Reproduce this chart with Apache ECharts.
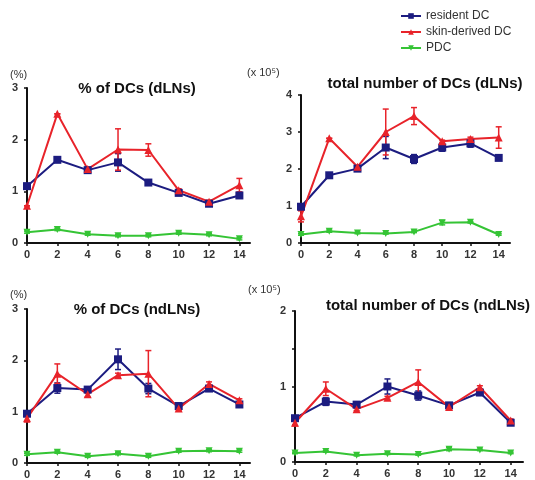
<!DOCTYPE html>
<html>
<head>
<meta charset="utf-8">
<script src="https://cdn.jsdelivr.net/npm/echarts@6/dist/echarts.min.js"></script>
<style>
  html, body { margin: 0; padding: 0; background: #fff; }
  #chart { width: 535px; height: 480px; }
</style>
</head>
<body>
<div id="chart"></div>
<script>
// days after sensitization
const days = [0, 2, 4, 6, 8, 10, 12, 14];
const seriesNames = ['resident DC', 'skin-derived DC', 'PDC'];

// 1: % of DCs (dLNs)
const res1 = [1.10, 1.61, 1.41, 1.56, 1.17, 0.97, 0.76, 0.92];
const resErr1 = [0.05, 0.03, 0.03, 0.17, 0.05, 0.04, 0.03, 0.03];
const skin1 = [0.72, 2.50, 1.43, 1.81, 1.80, 1.02, 0.80, 1.12];
const skinErr1 = [0, 0, 0.03, 0.40, 0.12, 0.03, 0.03, 0.13];
const pdc1 = [0.21, 0.26, 0.17, 0.14, 0.14, 0.19, 0.16, 0.08];
const pdcErr1 = [0.02, 0.02, 0.02, 0.02, 0.02, 0.02, 0.02, 0.02];

// 2: total number of DCs (dLNs), x 10^5
const res2 = [0.98, 1.83, 2.01, 2.58, 2.27, 2.58, 2.69, 2.30];
const resErr2 = [0.05, 0.03, 0.03, 0.30, 0.12, 0.10, 0.10, 0.05];
const skin2 = [0.72, 2.83, 2.06, 3.00, 3.43, 2.75, 2.81, 2.85];
const skinErr2 = [0.15, 0, 0.03, 0.62, 0.23, 0.03, 0.05, 0.29];
const pdc2 = [0.23, 0.32, 0.27, 0.26, 0.30, 0.55, 0.56, 0.23];
const pdcErr2 = [0.02, 0.03, 0.02, 0.02, 0.02, 0.06, 0.02, 0.02];

// 3: % of DCs (ndLNs)
const res3 = [0.96, 1.46, 1.43, 2.02, 1.45, 1.11, 1.45, 1.14];
const resErr3 = [0.05, 0.10, 0.04, 0.20, 0.10, 0.03, 0.04, 0.03];
const skin3 = [0.87, 1.74, 1.34, 1.71, 1.74, 1.06, 1.54, 1.22];
const skinErr3 = [0.07, 0.19, 0.05, 0.04, 0.45, 0.04, 0.04, 0.03];
const pdc3 = [0.17, 0.21, 0.13, 0.18, 0.13, 0.23, 0.24, 0.23];
const pdcErr3 = [0.02, 0.02, 0.02, 0.02, 0.02, 0.02, 0.02, 0.02];

// 4: total number of DCs (ndLNs), x 10^5
const res4 = [0.58, 0.80, 0.76, 1.00, 0.88, 0.75, 0.92, 0.52];
const resErr4 = [0.03, 0.05, 0.02, 0.10, 0.06, 0.02, 0.02, 0.02];
const skin4 = [0.52, 0.97, 0.70, 0.85, 1.06, 0.73, 0.99, 0.55];
const skinErr4 = [0.04, 0.09, 0.02, 0.02, 0.16, 0.03, 0.02, 0.02];
const pdc4 = [0.12, 0.14, 0.09, 0.11, 0.10, 0.17, 0.16, 0.12];
const pdcErr4 = [0.01, 0.01, 0.01, 0.01, 0.01, 0.02, 0.01, 0.01];

const titles = ['% of DCs (dLNs)', 'total number of DCs (dLNs)', '% of DCs (ndLNs)', 'total number of DCs (ndLNs)'];
const unitLabels = ['(%)', '(x 10⁵)', '(%)', '(x 10⁵)'];
const yMax = [3, 4, 3, 2];
const yStep = [1, 1, 1, 0.5];

const panels = [
  [res1, resErr1, skin1, skinErr1, pdc1, pdcErr1],
  [res2, resErr2, skin2, skinErr2, pdc2, pdcErr2],
  [res3, resErr3, skin3, skinErr3, pdc3, pdcErr3],
  [res4, resErr4, skin4, skinErr4, pdc4, pdcErr4]
];

const colors = ['#1c1c80', '#e8232a', '#35c435'];
const symbols = ['rect', 'triangle', 'triangle'];
const symbolRot = [0, 0, 180];
const symbolSz = [8, 8, 7];

// grid boxes (px)
const grids = [
  { left: 27, top: 88, width: 223, height: 155 },
  { left: 301, top: 95, width: 209, height: 148 },
  { left: 27, top: 309, width: 223, height: 154 },
  { left: 295, top: 311, width: 228, height: 151 }
];
const xMax = [14.7, 14.8, 14.7, 14.8];
const titlePos = [[137, 81], [425, 76], [137, 302], [428, 298]];
const unitPos = [[10, 69], [247, 67], [10, 289], [248, 284]];

const chart = echarts.init(document.getElementById('chart'));

const axisText = { color: '#333', fontWeight: 'bold', fontSize: 11, fontFamily: 'Liberation Sans, Arial' };

function errorBar(color) {
  return function (params, api) {
    const x = api.value(0);
    const lo = api.coord([x, api.value(1)]);
    const hi = api.coord([x, api.value(2)]);
    const cap = 3;
    const style = { stroke: color, lineWidth: 1.5 };
    return {
      type: 'group',
      children: [
        { type: 'line', shape: { x1: lo[0], y1: lo[1], x2: hi[0], y2: hi[1] }, style },
        { type: 'line', shape: { x1: hi[0] - cap, y1: hi[1], x2: hi[0] + cap, y2: hi[1] }, style },
        { type: 'line', shape: { x1: lo[0] - cap, y1: lo[1], x2: lo[0] + cap, y2: lo[1] }, style }
      ]
    };
  };
}

const xAxes = [], yAxes = [], series = [], titleOpts = [];
grids.forEach((g, i) => {
  xAxes.push({
    type: 'value', gridIndex: i, min: 0, max: xMax[i], interval: 2,
    axisLine: { lineStyle: { color: '#111', width: 2 } },
    axisTick: { show: true, length: 3, lineStyle: { color: '#111', width: 1.5 } },
    axisLabel: Object.assign({ showMaxLabel: false, margin: 6 }, axisText),
    splitLine: { show: false }
  });
  yAxes.push({
    type: 'value', gridIndex: i, min: 0, max: yMax[i], interval: yStep[i],
    axisLine: { show: true, lineStyle: { color: '#111', width: 2 } },
    axisTick: { show: true, length: 3, lineStyle: { color: '#111', width: 1.5 } },
    axisLabel: Object.assign({
      margin: 9,
      formatter: v => (Number.isInteger(v) ? String(v) : '')
    }, axisText),
    splitLine: { show: false }
  });
  titleOpts.push({
    text: titles[i], left: titlePos[i][0], top: titlePos[i][1], textAlign: 'center', padding: 0,
    textStyle: { fontSize: 15, fontWeight: 'bold', color: '#111', fontFamily: 'Liberation Sans, Arial' }
  });
  titleOpts.push({
    text: unitLabels[i], left: unitPos[i][0], top: unitPos[i][1], padding: 0,
    textStyle: { fontSize: 11, fontWeight: 'normal', color: '#333', fontFamily: 'Liberation Sans, Arial' }
  });

  const p = panels[i];
  for (let s = 0; s < 3; s++) {
    const vals = p[s * 2];
    const errs = p[s * 2 + 1];
    series.push({
      type: 'custom', xAxisIndex: i, yAxisIndex: i, z: 3,
      renderItem: errorBar(colors[s]),
      data: days.map((d, k) => [d, vals[k] - errs[k], vals[k] + errs[k]]),
      silent: true
    });
    series.push({
      name: seriesNames[s], type: 'line', xAxisIndex: i, yAxisIndex: i, z: 4,
      data: days.map((d, k) => [d, vals[k]]),
      symbol: symbols[s], symbolRotate: symbolRot[s], symbolSize: symbolSz[s],
      lineStyle: { color: colors[s], width: 2 },
      itemStyle: { color: colors[s] },
      animation: false
    });
  }
});

chart.setOption({
  animation: false,
  title: titleOpts,
  legend: {
    data: seriesNames, orient: 'vertical', left: 400, top: 10, padding: 0,
    itemWidth: 20, itemHeight: 7, itemGap: 4,
    textStyle: { fontSize: 12, color: '#333', fontFamily: 'Liberation Sans, Arial' }
  },
  grid: grids,
  xAxis: xAxes,
  yAxis: yAxes,
  series: series
});
</script>
</body>
</html>
